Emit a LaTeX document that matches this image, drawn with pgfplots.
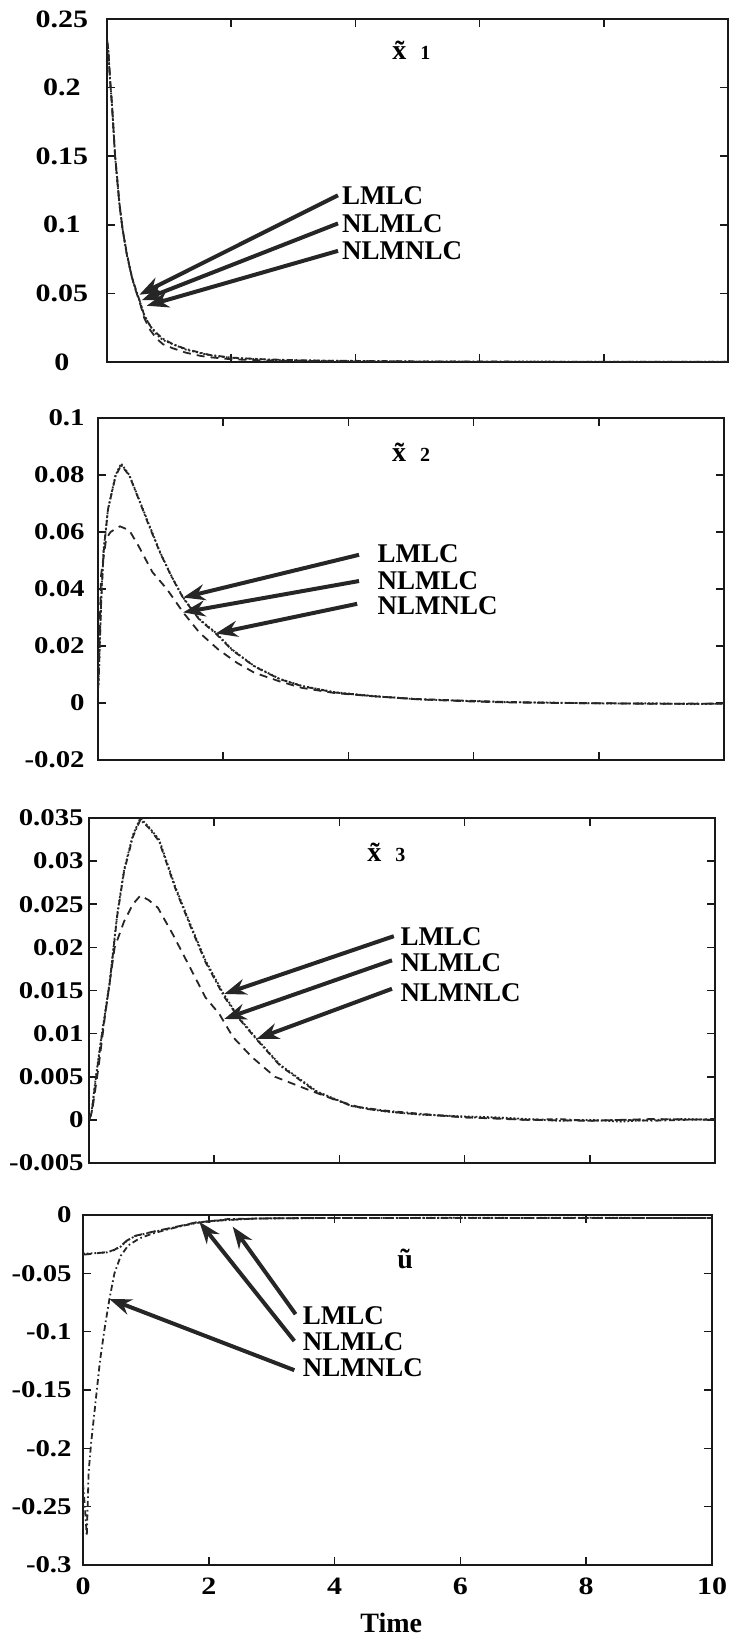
\documentclass[border=0pt]{standalone}
\usepackage{fontspec}
\setmainfont{Liberation Serif}
\newfontfamily\tickfont{Liberation Serif}[FakeStretch=1.2]
\usepackage{pgfplots}
\pgfplotsset{compat=1.18}
\usetikzlibrary{arrows.meta}

\pgfplotsset{
  panel/.style={
    scale only axis, anchor=north west,
    xmin=0, xmax=10, xtick={0,2,4,6,8,10},
    xtick pos=both, ytick pos=both, tick align=inside,
    major tick length=4pt, scaled y ticks=false,
    axis line style={line width=1.1pt, black!90},
    every tick/.style={line width=0.8pt, black!90},
    yticklabel style={font=\tickfont\bfseries\fontsize{12}{14}\selectfont, inner sep=0pt},
    xticklabel style={font=\tickfont\bfseries\fontsize{12.5}{14}\selectfont},
    clip mode=individual,
  },
  lmlc/.style={black!85, line width=0.9pt, densely dotted},
  nlmlc/.style={black!85, line width=0.9pt, dash pattern=on 4pt off 3pt},
  nlmnlc/.style={black!85, line width=0.9pt, dash pattern=on 3pt off 1.5pt on 0.8pt off 1.5pt},
}
\tikzset{
  pointer/.style={line width=2pt, black!85, -{Stealth[length=11pt, width=8pt]}},
  tag/.style={anchor=west, inner sep=0pt, text height=9pt, text depth=0pt,
    font=\bfseries\fontsize{13.5}{15}\selectfont},
  heading/.style={font=\bfseries\fontsize{14}{16}\selectfont},
}

\begin{document}
\begin{tikzpicture}
\useasboundingbox (0,0) rectangle (365pt,-818.5pt);

% ---------------- state x1 ----------------
\begin{axis}[panel, at={(53.5pt,-9.5pt)}, width=310.5pt, height=171.5pt,
  ymin=0, ymax=0.25, ytick={0,0.05,0.1,0.15,0.2,0.25},
  yticklabels={0,0.05,0.1,0.15,0.2,0.25}, xticklabels={},
  yticklabel style={anchor=center, xshift=-22.5pt,
    font=\tickfont\bfseries\fontsize{12.5}{14}\selectfont}]
\addplot[lmlc] coordinates {(0,0.235) (0.02,0.228) (0.05,0.205) (0.08,0.188) (0.13,0.15) (0.2,0.115) (0.25,0.097) (0.32,0.078) (0.4,0.062) (0.45,0.054) (0.53,0.044) (0.6,0.034) (0.7,0.026) (0.8,0.020) (0.9,0.016) (1.06,0.013) (1.27,0.009) (1.5,0.0065) (1.65,0.005) (2,0.003) (2.5,0.0019) (2.8,0.0013) (3.5,0.0009) (4.3,0.0006) (5,0.0004) (6,0.0002) (7,0.0003) (8,0.0001) (9,0.0002) (10,0.0001)};
\addplot[nlmlc] coordinates {(0,0.235) (0.02,0.228) (0.05,0.205) (0.08,0.188) (0.13,0.15) (0.2,0.115) (0.25,0.097) (0.32,0.078) (0.4,0.062) (0.45,0.054) (0.53,0.043) (0.6,0.032) (0.7,0.023) (0.8,0.017) (0.9,0.013) (1.06,0.010) (1.27,0.0068) (1.5,0.0045) (1.65,0.0035) (2,0.002) (2.5,0.0012) (3,0.0008) (4,0.0004) (5,0.0002) (6,0.0001) (8,0) (10,0)};
\addplot[nlmnlc] coordinates {(0,0.234) (0.02,0.227) (0.05,0.206) (0.08,0.187) (0.13,0.151) (0.2,0.116) (0.25,0.097) (0.32,0.079) (0.4,0.062) (0.45,0.055) (0.53,0.044) (0.6,0.034) (0.7,0.026) (0.8,0.021) (0.9,0.017) (1.06,0.013) (1.27,0.0095) (1.5,0.0068) (1.65,0.0052) (2,0.0032) (2.5,0.002) (3,0.0014) (3.5,0.001) (4.3,0.0007) (5,0.0004) (6,0.0003) (7,0.0002) (8,0.0002) (9,0.0001) (10,0.0001)};
\draw[pointer] (axis cs:3.72,0.1215) -- (axis cs:0.52,0.049);
\draw[pointer] (axis cs:3.72,0.101) -- (axis cs:0.56,0.045);
\draw[pointer] (axis cs:3.72,0.081) -- (axis cs:0.64,0.041);
\node[tag] at (axis cs:3.78,0.1215) {LMLC};
\node[tag] at (axis cs:3.78,0.101) {NLMLC};
\node[tag] at (axis cs:3.78,0.081) {NLMNLC};
\node[heading] at (axis cs:4.9,0.227) {\~{x}\hspace{7pt}{\fontsize{10}{12}\selectfont 1}};
\end{axis}

% ---------------- state x2 ----------------
\begin{axis}[panel, at={(49pt,-209pt)}, width=313pt, height=171pt,
  ymin=-0.02, ymax=0.1, ytick={-0.02,0,0.02,0.04,0.06,0.08,0.1},
  yticklabels={-0.02,0,0.02,0.04,0.06,0.08,0.1}, xticklabels={},
  yticklabel style={anchor=east, xshift=-6.5pt}]
\addplot[lmlc] coordinates {(0,0.005) (0.01,0.007) (0.05,0.036) (0.09,0.054) (0.16,0.068) (0.28,0.08) (0.37,0.084) (0.5,0.08) (0.65,0.0718) (0.8,0.0635) (0.99,0.053) (1.17,0.0447) (1.36,0.037) (1.62,0.0294) (1.88,0.0247) (2.14,0.0188) (2.5,0.0129) (2.9,0.0085) (3.26,0.006) (3.78,0.0038) (4.38,0.0025) (5.1,0.0013) (5.9,0.0007) (6.5,0.0003) (7.4,0.0001) (8.2,-0.0002) (8.9,-0.0001) (9.5,-0.0004) (10,-0.0002)};
\addplot[nlmlc] coordinates {(0,0.005) (0.02,0.02) (0.05,0.045) (0.13,0.0576) (0.2,0.06) (0.35,0.062) (0.5,0.0606) (0.65,0.055) (0.87,0.0459) (1.1,0.04) (1.36,0.0318) (1.62,0.0247) (1.92,0.0188) (2.22,0.0141) (2.5,0.0106) (2.9,0.0076) (3.26,0.0053) (3.78,0.0035) (4.38,0.0024) (5.1,0.0013) (5.9,0.0006) (6.5,0.0002) (7.4,0) (8.2,-0.0001) (9,-0.0003) (10,-0.0002)};
\addplot[nlmnlc] coordinates {(0,0.005) (0.01,0.008) (0.05,0.035) (0.09,0.053) (0.16,0.068) (0.28,0.0795) (0.37,0.0835) (0.5,0.0798) (0.65,0.0715) (0.8,0.063) (0.99,0.0528) (1.17,0.0445) (1.36,0.0368) (1.62,0.0292) (1.88,0.0244) (2.14,0.0186) (2.5,0.0128) (2.9,0.0084) (3.26,0.0059) (3.78,0.0037) (4.38,0.0024) (5.1,0.0014) (5.9,0.0008) (6.5,0.0004) (7.4,0) (8.2,-0.0001) (8.9,-0.0003) (9.5,-0.0002) (10,-0.0003)};
\draw[pointer] (axis cs:4.17,0.052) -- (axis cs:1.36,0.037);
\draw[pointer] (axis cs:4.17,0.0428) -- (axis cs:1.36,0.0318);
\draw[pointer] (axis cs:4.14,0.0348) -- (axis cs:1.88,0.0244);
\node[tag] at (axis cs:4.46,0.0524) {LMLC};
\node[tag] at (axis cs:4.46,0.043) {NLMLC};
\node[tag] at (axis cs:4.46,0.0342) {NLMNLC};
\node[heading] at (axis cs:5.0,0.088) {\~{x}\hspace{7pt}{\fontsize{10}{12}\selectfont 2}};
\end{axis}

% ---------------- state x3 ----------------
\begin{axis}[panel, at={(44.5pt,-409pt)}, width=313pt, height=172.5pt,
  ymin=-0.005, ymax=0.035, ytick={-0.005,0,0.005,0.01,0.015,0.02,0.025,0.03,0.035},
  yticklabels={-0.005,0,0.005,0.01,0.015,0.02,0.025,0.03,0.035}, xticklabels={},
  yticklabel style={anchor=east, xshift=-2.5pt}]
\addplot[lmlc] coordinates {(0,0) (0.04,0.0008) (0.11,0.005) (0.19,0.0092) (0.33,0.016) (0.45,0.0238) (0.56,0.029) (0.7,0.033) (0.82,0.035) (0.95,0.034) (1.12,0.0325) (1.38,0.027) (1.64,0.0223) (1.86,0.0185) (2.15,0.0146) (2.4,0.0118) (2.68,0.0094) (3.05,0.0064) (3.64,0.0033) (4.2,0.0016) (4.7,0.001) (5.3,0.0006) (6,0.0004) (6.5,0.0003) (7,0.0001) (7.5,-0.0001) (8,0) (8.5,-0.0002) (9,0) (9.5,0.0001) (10,0)};
\addplot[nlmlc] coordinates {(0,0) (0.05,0.001) (0.15,0.006) (0.26,0.0123) (0.41,0.02) (0.56,0.023) (0.7,0.025) (0.82,0.026) (0.95,0.0255) (1.1,0.0246) (1.34,0.0215) (1.64,0.0173) (1.86,0.0142) (2.08,0.0123) (2.3,0.0096) (2.6,0.0073) (2.97,0.005) (3.5,0.0035) (3.94,0.0023) (4.39,0.0013) (5,0.0008) (6,0.0003) (7,0) (8,-0.0001) (9,0.0001) (10,0)};
\addplot[nlmnlc] coordinates {(0,0) (0.04,0.0007) (0.11,0.0048) (0.19,0.009) (0.33,0.0158) (0.45,0.0236) (0.56,0.0288) (0.7,0.0328) (0.82,0.0348) (0.95,0.0339) (1.12,0.0323) (1.38,0.0268) (1.64,0.0221) (1.86,0.0183) (2.15,0.0144) (2.4,0.0117) (2.68,0.0093) (3.05,0.0063) (3.64,0.0032) (4.2,0.0016) (4.7,0.0011) (5.3,0.0007) (6,0.0003) (6.5,0.0002) (7,0) (7.5,0.0001) (8,-0.0001) (8.5,0) (9,-0.0001) (9.5,0) (10,0.0001)};
\draw[pointer] (axis cs:4.87,0.0213) -- (axis cs:2.16,0.0146);
\draw[pointer] (axis cs:4.84,0.0185) -- (axis cs:2.16,0.0117);
\draw[pointer] (axis cs:4.84,0.0152) -- (axis cs:2.68,0.0094);
\node[tag] at (axis cs:4.97,0.0213) {LMLC};
\node[tag] at (axis cs:4.97,0.0183) {NLMLC};
\node[tag] at (axis cs:4.97,0.0148) {NLMNLC};
\node[heading] at (axis cs:4.75,0.031) {\~{x}\hspace{7pt}{\fontsize{10}{12}\selectfont 3}};
\end{axis}

% ---------------- control u ----------------
\begin{axis}[panel, at={(41.5pt,-607.5pt)}, width=314.5pt, height=175pt,
  ymin=-0.3, ymax=0, ytick={-0.3,-0.25,-0.2,-0.15,-0.1,-0.05,0},
  yticklabels={-0.3,-0.25,-0.2,-0.15,-0.1,-0.05,0},
  yticklabel style={anchor=east, xshift=-5.5pt},
  xticklabels={0,2,4,6,8,10},
  xticklabel style={yshift=-3pt}]
\addplot[lmlc] coordinates {(0,-0.033) (0.1,-0.033) (0.38,-0.032) (0.5,-0.030) (0.6,-0.027) (0.7,-0.022) (0.83,-0.018) (1.12,-0.0144) (1.42,-0.011) (1.8,-0.0065) (2.23,-0.0045) (2.75,-0.003) (3.5,-0.0027) (4.16,-0.0025) (5,-0.0025) (6,-0.0024) (7,-0.0025) (8,-0.0024) (9,-0.0025) (10,-0.0025)};
\addplot[nlmlc] coordinates {(0,-0.034) (0.1,-0.0335) (0.38,-0.0318) (0.5,-0.0298) (0.6,-0.0265) (0.7,-0.0218) (0.83,-0.0178) (1.12,-0.0142) (1.42,-0.0108) (1.8,-0.0063) (2.23,-0.0044) (2.75,-0.003) (3.5,-0.0026) (4.16,-0.0025) (5,-0.0025) (6,-0.0025) (8,-0.0025) (10,-0.0025)};
\addplot[nlmnlc] coordinates {(0,-0.23) (0.03,-0.25) (0.06,-0.275) (0.09,-0.22) (0.13,-0.195) (0.2,-0.16) (0.27,-0.125) (0.35,-0.095) (0.42,-0.072) (0.5,-0.05) (0.6,-0.035) (0.72,-0.026) (0.9,-0.02) (1.1,-0.016) (1.3,-0.013) (1.6,-0.009) (1.9,-0.006) (2.3,-0.0035) (3,-0.0028) (4,-0.0025) (6,-0.0025) (10,-0.0025)};
\draw[pointer] (axis cs:3.38,-0.085) -- (axis cs:2.38,-0.010);
\draw[pointer] (axis cs:3.36,-0.108) -- (axis cs:1.85,-0.0058);
\draw[pointer] (axis cs:3.36,-0.133) -- (axis cs:0.42,-0.072);
\node[tag] at (axis cs:3.49,-0.0865) {LMLC};
\node[tag] at (axis cs:3.49,-0.108) {NLMLC};
\node[tag] at (axis cs:3.49,-0.131) {NLMNLC};
\node[heading] at (axis cs:5.12,-0.0375) {\~{u}};
\node[font=\bfseries\fontsize{14}{16}\selectfont] at (rel axis cs:0.49,0) [yshift=-29pt] {Time};
\end{axis}
\end{tikzpicture}
\end{document}
